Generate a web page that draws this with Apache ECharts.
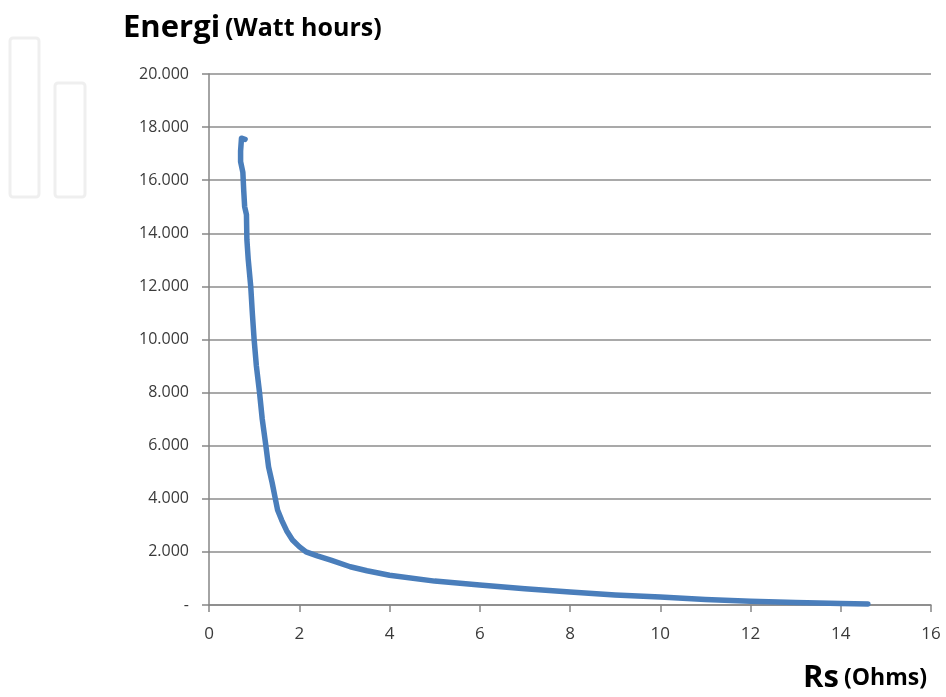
<!DOCTYPE html>
<html>
<head>
<meta charset="utf-8">
<script src="https://cdn.jsdelivr.net/npm/echarts@6/dist/echarts.min.js"></script>
<style>html,body{margin:0;padding:0;background:#fff}#c{width:946px;height:697px}</style>
</head>
<body>
<div id="c"></div>
<script>
// Series resistance (Ohms)
var rsValues = [0.80, 0.72, 0.70, 0.70, 0.75, 0.77, 0.79, 0.83, 0.84, 0.87, 0.925, 0.96, 1.00, 1.05, 1.12, 1.18, 1.26, 1.32, 1.40, 1.47, 1.52, 1.61, 1.72, 1.85, 2.00, 2.15, 2.40, 2.70, 3.13, 3.50, 4.00, 5.00, 6.00, 7.00, 8.00, 9.00, 10.00, 11.00, 12.00, 13.00, 14.00, 14.60];
// Energy (Watt hours)
var energyValues = [17540, 17580, 17100, 16700, 16300, 15600, 15000, 14700, 13750, 13000, 12000, 11000, 10000, 9000, 8000, 7000, 6000, 5200, 4600, 4000, 3580, 3200, 2800, 2450, 2200, 2000, 1850, 1690, 1440, 1290, 1120, 900, 750, 610, 490, 380, 300, 210, 140, 90, 55, 40];
var xTicks = [0, 2, 4, 6, 8, 10, 12, 14, 16];
var yTickLabels = ['-', '2.000', '4.000', '6.000', '8.000', '10.000', '12.000', '14.000', '16.000', '18.000', '20.000'];

var points = rsValues.map(function (x, i) { return [x, energyValues[i]]; });
var chart = echarts.init(document.getElementById('c'), null, {renderer: 'canvas'});
var font = '"Open Sans", Lato, sans-serif';
chart.setOption({
  animation: false,
  backgroundColor: '#ffffff',
  graphic: [
    {type: 'rect', shape: {x: 10, y: 38, width: 29, height: 159, r: 3}, style: {fill: 'none', stroke: '#efefef', lineWidth: 3}, z: -10},
    {type: 'rect', shape: {x: 55, y: 83, width: 30, height: 114, r: 3}, style: {fill: 'none', stroke: '#efefef', lineWidth: 3}, z: -10}
  ],
  title: [
    {
      text: '{a|Energi} {b|(Watt hours)}',
      left: 118, top: 8,
      textStyle: {rich: {
        a: {fontSize: 31, fontWeight: 'bold', color: '#000', fontFamily: font},
        b: {fontSize: 25, fontWeight: 'bold', color: '#000', fontFamily: font}
      }}
    },
    {
      text: '{a|Rs} {b|(Ohms)}',
      right: 14, top: 658,
      textStyle: {rich: {
        a: {fontSize: 31, fontWeight: 'bold', color: '#000', fontFamily: font},
        b: {fontSize: 23, fontWeight: 'bold', color: '#000', fontFamily: font}
      }}
    }
  ],
  grid: {left: 209, right: 15, top: 74, bottom: 92, containLabel: false},
  xAxis: {
    type: 'value', min: 0, max: 16, interval: 2,
    axisLine: {show: true, lineStyle: {color: '#868686', width: 1.5}},
    axisTick: {show: true, length: 7, lineStyle: {color: '#868686', width: 1.5}},
    axisLabel: {color: '#3a3a3a', fontSize: 17, fontFamily: font, margin: 21,
      formatter: function (v) { return xTicks.indexOf(v) >= 0 ? String(v) : ''; }},
    splitLine: {show: false}
  },
  yAxis: {
    type: 'value', min: 0, max: 20000, interval: 2000,
    axisLine: {show: true, lineStyle: {color: '#868686', width: 1.5}},
    axisTick: {show: true, length: 7, lineStyle: {color: '#868686', width: 1.5}},
    axisLabel: {color: '#3a3a3a', fontSize: 16, fontFamily: font, margin: 20,
      formatter: function (v) { return yTickLabels[Math.round(v / 2000)]; }},
    splitLine: {show: true, lineStyle: {color: '#8c8c8c', width: 1.5}}
  },
  series: [{
    type: 'line',
    data: points,
    showSymbol: false,
    smooth: false,
    lineStyle: {color: '#4a7ebb', width: 5.5, cap: 'round', join: 'round'},
    itemStyle: {color: '#4a7ebb'}
  }]
});
</script>
</body>
</html>
